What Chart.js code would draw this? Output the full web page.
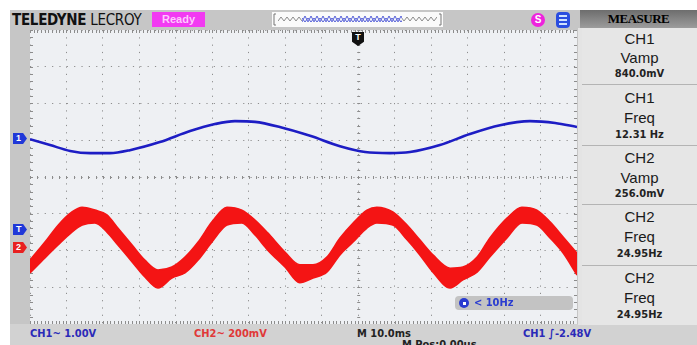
<!DOCTYPE html>
<html lang="en">
<head>
<meta charset="UTF-8">
<title>Scope capture</title>
<script src="https://cdn.jsdelivr.net/npm/chart.js"></script>
<style>
  body { margin:0; width:697px; height:345px; overflow:hidden; background:#fff; position:relative; font-family:"Liberation Sans", Arial, sans-serif; }
  .abs { position:absolute; }
  #frame { left:10px; top:10px; width:687px; height:335px; background:#c6c6c6; }
  #bottombar { left:10px; top:324px; width:687px; height:21px; background:#d2d2d2; }
  #scope { position:absolute; left:30px; top:30px; }
  .logo { left:12px; top:11px; font-family:"DejaVu Sans Condensed", sans-serif; font-size:15px; line-height:19px; letter-spacing:-0.3px; color:#111; white-space:nowrap; }
  .ready { left:152px; top:12px; width:53px; height:15px; background:#f23af2; color:#ffc8ff; font-size:11px; line-height:15px; text-align:center; font-weight:bold; }
  .overview { left:272px; top:12px; width:171px; height:15px; background:#fafafa; }
  .icon1 { left:531px; top:13px; width:14px; height:14px; border-radius:50%; background:#ee22dd; color:#fff; font-size:10px; line-height:14px; text-align:center; font-weight:bold; }
  .icon2 { left:556px; top:12px; width:14px; height:16px; border-radius:4px; background:#2a4de0; }
  .icon2 i { position:absolute; left:3px; width:8px; height:2px; background:#cfe0ff; }
  .measure { left:580px; top:10px; width:117px; height:18px; background:linear-gradient(#6d6d6d,#9c9c9c); color:#000; font-family:"Liberation Serif", serif; font-weight:bold; font-size:13px; line-height:18px; text-align:center; letter-spacing:-0.5px; }
  .panel { left:578px; top:28px; width:119px; height:297px; background:#e4e4e4; }
  .box { position:absolute; left:4px; width:115px; border-bottom:1px solid #b4b4b4; background:#e6e6e6; }
  .box div { position:absolute; left:0; width:100%; text-align:center; color:#1a1a1a; white-space:nowrap; }
  .box .t { font-size:15px; line-height:16px; }
  .box .v { font-size:11px; line-height:12px; font-family:"DejaVu Sans Condensed", sans-serif; font-weight:bold; color:#222; }
  .mk { width:14px; height:11px; color:#fff; font-size:9px; line-height:11px; font-weight:bold; text-indent:3px; clip-path:polygon(0 0,72% 0,100% 50%,72% 100%,0 100%); }
  .trig { left:352px; top:32px; width:12px; height:14px; background:#111; color:#fff; font-size:9px; line-height:11px; text-align:center; font-weight:bold; clip-path:polygon(0 0,100% 0,100% 70%,50% 100%,0 70%); }
  .bt { top:327px; font-family:"DejaVu Sans Condensed", sans-serif; font-size:11px; line-height:14px; font-weight:bold; white-space:nowrap; }
  .filt { left:455px; top:296px; width:118px; height:14px; border-radius:4px; background:#c3c3c3; }
  .filt span { position:absolute; white-space:nowrap; }
</style>
</head>
<body>
<div id="frame" class="abs"></div>
<div id="bottombar" class="abs"></div>

<div class="abs logo"><b>TELEDYNE</b> LECROY</div>
<div class="abs ready">Ready</div>
<div class="abs overview">
  <svg width="171" height="15">
    <defs>
      <pattern id="zz" width="6" height="15" patternUnits="userSpaceOnUse">
        <path d="M0 9 L3 5 L6 9" fill="none" stroke="#8a8a8a" stroke-width="1"/>
      </pattern>
      <pattern id="zb" width="6" height="15" patternUnits="userSpaceOnUse">
        <path d="M0 10 L3 4 L6 10 M0 6 L3 10 L6 6" fill="none" stroke="#5560d8" stroke-width="1"/>
      </pattern>
    </defs>
    <path d="M4 2 L2 2 L2 13 L4 13 M167 2 L169 2 L169 13 L167 13" fill="none" stroke="#777"/>
    <rect x="6" y="0" width="24" height="15" fill="url(#zz)"/>
    <rect x="30" y="0" width="100" height="15" fill="url(#zb)"/>
    <rect x="130" y="0" width="35" height="15" fill="url(#zz)"/>
  </svg>
</div>
<div class="abs icon1">S</div>
<div class="abs icon2"><i style="top:3px"></i><i style="top:7px"></i><i style="top:11px"></i></div>
<div class="abs measure">MEASURE</div>

<div class="abs panel">
  <div class="box" style="top:0;height:56px"><div class="t" style="top:3px">CH1</div><div class="t" style="top:22px">Vamp</div><div class="v" style="top:40px">840.0mV</div></div>
  <div class="box" style="top:57px;height:60px"><div class="t" style="top:5px">CH1</div><div class="t" style="top:25px">Freq</div><div class="v" style="top:44px">12.31 Hz</div></div>
  <div class="box" style="top:118px;height:58px"><div class="t" style="top:4px">CH2</div><div class="t" style="top:24px">Vamp</div><div class="v" style="top:42px">256.0mV</div></div>
  <div class="box" style="top:177px;height:60px"><div class="t" style="top:4px">CH2</div><div class="t" style="top:24px">Freq</div><div class="v" style="top:43px">24.95Hz</div></div>
  <div class="box" style="top:238px;height:59px;border-bottom:none"><div class="t" style="top:4px">CH2</div><div class="t" style="top:24px">Freq</div><div class="v" style="top:43px">24.95Hz</div></div>
</div>

<canvas id="scope" width="547" height="294"></canvas>

<div class="abs mk" style="left:13px;top:133px;background:#2038d8">1</div>
<div class="abs mk" style="left:13px;top:224px;background:#2038d8">T</div>
<div class="abs mk" style="left:13px;top:242px;background:#e82020">2</div>
<div class="abs trig">T</div>

<div class="abs filt">
  <span style="left:4px;top:2px;width:10px;height:10px;border-radius:50%;background:#2a3cd0"></span>
  <span style="left:8px;top:6px;width:3px;height:3px;background:#fff"></span>
  <span style="left:19px;top:0;font-family:'DejaVu Sans Condensed',sans-serif;font-size:11px;line-height:14px;font-weight:bold;color:#2a3cd0">&lt; 10Hz</span>
</div>

<div class="abs bt" style="left:30px;color:#2a2ab8">CH1~ 1.00V</div>
<div class="abs bt" style="left:194px;color:#e03838">CH2~ 200mV</div>
<div class="abs bt" style="left:357px;color:#222">M 10.0ms</div>
<div class="abs bt" style="left:402px;top:338px;color:#222">M Pos:0.00us</div>
<div class="abs bt" style="left:523px;color:#2a2ab8">CH1 ∫-2.48V</div>

<script>
// time axis: ms from left edge of screen (10 ms/div, 15 div)
// vertical: screen divisions from centre line (8 div)

// CH1 trace (1.00 V/div)
const ch1Time = [0, 5.5, 11.0, 16.5, 21.9, 27.4, 35.6, 43.9, 50.7, 56.2, 61.7, 68.5, 76.8, 85.0, 91.9, 98.7, 104.2, 112.4, 120.6, 128.9, 137.1, 144.0, 150];
const ch1Div  = [1.03, 0.87, 0.71, 0.65, 0.65, 0.73, 0.95, 1.25, 1.44, 1.52, 1.50, 1.36, 1.12, 0.84, 0.68, 0.65, 0.68, 0.87, 1.17, 1.41, 1.52, 1.47, 1.36];

// CH2 trace (200 mV/div) - noisy, so kept as upper and lower envelope
const ch2Time  = [0, 4.1, 7.7, 11.5, 14.3, 17.8, 21.1, 24.1, 28.0, 31.5, 35.1, 38.9, 42.5, 46.1, 49.9, 54.0, 58.1, 61.7, 65.2, 69.9, 74.0, 77.6, 81.4, 85.0, 88.6, 92.4, 95.1, 99.5, 103.4, 106.9, 110.5, 115.2, 118.7, 122.6, 126.1, 130.8, 134.9, 139.0, 142.6, 146.2, 150];
const ch2Upper = [-2.26, -1.77, -1.31, -0.95, -0.82, -0.90, -1.03, -1.39, -1.85, -2.26, -2.53, -2.45, -2.18, -1.77, -1.22, -0.82, -0.90, -1.17, -1.52, -2.04, -2.39, -2.39, -2.18, -1.66, -1.25, -0.90, -0.82, -0.95, -1.31, -1.71, -2.12, -2.48, -2.45, -2.18, -1.66, -1.12, -0.82, -0.90, -1.22, -1.63, -2.07];
const ch2Lower = [-2.61, -2.20, -1.85, -1.50, -1.31, -1.25, -1.50, -1.85, -2.31, -2.72, -3.02, -2.75, -2.61, -2.26, -1.77, -1.31, -1.25, -1.58, -1.99, -2.45, -2.88, -2.75, -2.59, -2.12, -1.77, -1.39, -1.25, -1.31, -1.71, -2.12, -2.59, -3.02, -2.80, -2.59, -2.18, -1.66, -1.25, -1.31, -1.66, -2.07, -2.67];

const trigTime = 90;   // dense vertical graticule line under the T marker

const pts = (xs, ys) => xs.map((x, i) => ({ x: x, y: ys[i] }));

// screen background + the small ticks on the border / centre lines
const graticule = {
  id: 'graticule',
  beforeDraw(chart) {
    const { ctx, chartArea: a } = chart;
    ctx.save();
    ctx.fillStyle = '#eef0f3';
    ctx.fillRect(a.left, a.top, a.right - a.left, a.bottom - a.top);
    ctx.restore();
  },
  beforeDatasetsDraw(chart) {
    const { ctx, chartArea: a, scales } = chart;
    const xs = scales.x, ys = scales.y;
    ctx.save();
    ctx.fillStyle = '#8c8c8c';
    for (let t = 0; t <= 150; t += 1) {
      const px = Math.round(xs.getPixelForValue(t));
      ctx.fillRect(px, a.top, 1, 3);
      ctx.fillRect(px, a.bottom - 3, 1, 3);
      if (t % 2 === 0) ctx.fillRect(px, ys.getPixelForValue(0) - 1, 1, 3);
    }
    for (let v = -4; v <= 4.001; v += 0.2) {
      const py = Math.round(ys.getPixelForValue(v));
      ctx.fillRect(a.left, py, 3, 1);
      ctx.fillRect(a.right - 3, py, 3, 1);
      ctx.fillRect(xs.getPixelForValue(trigTime) - 1, py, 3, 1);
    }
    ctx.restore();
  }
};

const gridOpts = { color: '#8e8e8e', lineWidth: 1, drawTicks: false };

new Chart(document.getElementById('scope'), {
  type: 'line',
  data: {
    datasets: [
      { label: 'CH1', data: pts(ch1Time, ch1Div), borderColor: '#1d1dc4', borderWidth: 2.6, cubicInterpolationMode: 'monotone', fill: false },
      { label: 'CH2 upper', data: pts(ch2Time, ch2Upper), borderColor: '#f41414', borderWidth: 1.5, cubicInterpolationMode: 'monotone', fill: false },
      { label: 'CH2 lower', data: pts(ch2Time, ch2Lower), borderColor: '#f41414', borderWidth: 1.5, cubicInterpolationMode: 'monotone', fill: '-1', backgroundColor: '#f41414' }
    ]
  },
  options: {
    responsive: false,
    animation: false,
    layout: { padding: 0 },
    elements: { point: { radius: 0 } },
    plugins: { legend: { display: false }, tooltip: { enabled: false } },
    scales: {
      x: { type: 'linear', min: 0, max: 150, ticks: { display: false, stepSize: 10 }, grid: gridOpts, border: { display: false, dash: [1.2, 6.1] } },
      y: { min: -4, max: 4, ticks: { display: false, stepSize: 1 }, grid: gridOpts, border: { display: false, dash: [1.2, 6.15] } }
    }
  },
  plugins: [graticule]
});
</script>
</body>
</html>
